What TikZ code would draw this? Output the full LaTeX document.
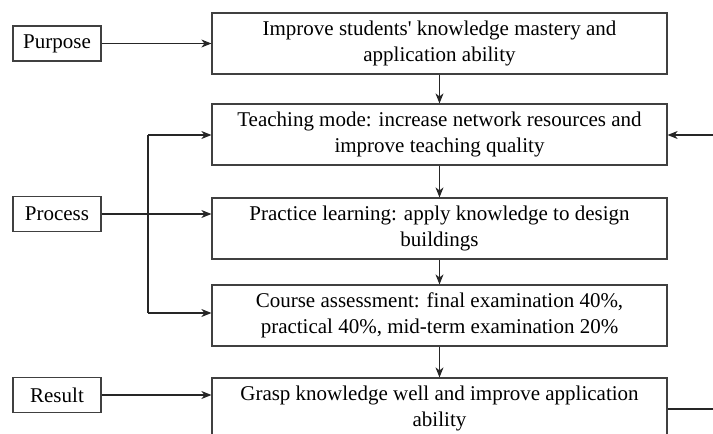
\documentclass[tikz,border=0pt]{standalone}
\usepackage{fontspec}
\setmainfont{Liberation Serif}
\usetikzlibrary{arrows.meta}
\begin{document}
\begin{tikzpicture}[x=1pt,y=1pt,
  every node/.style={font=\fontsize{21}{26}\selectfont},
  sidebox/.style={draw=black!75,line width=1.2pt,minimum width=88pt,minimum height=35pt,inner sep=0pt},
  mainbox/.style={draw=black!75,line width=1.2pt,minimum width=455pt,minimum height=61pt,inner sep=0pt,align=center},
  conn/.style={line width=1.2pt,draw=black!85},
  arr/.style={conn,-{Stealth[length=10pt,width=8pt,inset=3pt]}}]
\useasboundingbox (0,0) rectangle (713,-434);
\clip (0,0) rectangle (713,-434);
% left labels
\node[sidebox] (purpose) at (57,-43.5) {Purpose};
\node[sidebox] (process) at (57,-214) {Process};
\node[sidebox] (result)  at (57,-395) {Result};
% main column
\node[mainbox] (aim)    at (439.5,-43.5)  {Improve students\textquotesingle{} knowledge mastery and\\application ability};
\node[mainbox] (mode)   at (439.5,-134.5) {Teaching mode: increase network resources and\\improve teaching quality};
\node[mainbox] (prac)   at (439.5,-228.5) {Practice learning: apply knowledge to design\\buildings};
\node[mainbox] (assess) at (439.5,-315.5) {Course assessment: final examination 40\%,\\practical 40\%, mid-term examination 20\%};
\node[mainbox] (grasp)  at (439.5,-408.5) {Grasp knowledge well and improve application\\ability};
% vertical flow
\draw[arr] (aim.south) -- (mode.north);
\draw[arr] (mode.south) -- (prac.north);
\draw[arr] (prac.south) -- (assess.north);
\draw[arr] (assess.south) -- (grasp.north);
% side connections
\draw[arr] (purpose.east) -- (purpose.east -| aim.west);
\draw[arr] (result.east) -- (result.east -| grasp.west);
\draw[arr] (process.east) -- (process.east -| prac.west);
\coordinate (btop) at (148,-135);
\coordinate (bbot) at (148,-313);
\draw[conn] (btop) -- (bbot);
\draw[arr] (btop) -- (btop -| mode.west);
\draw[arr] (bbot) -- (bbot -| assess.west);
% feedback from the right
\coordinate (rin) at (713,-135);
\coordinate (rout) at (713,-409);
\draw[arr] (rin) -- (rin -| mode.east);
\draw[conn] (grasp.east |- rout) -- (rout);
\end{tikzpicture}
\end{document}
